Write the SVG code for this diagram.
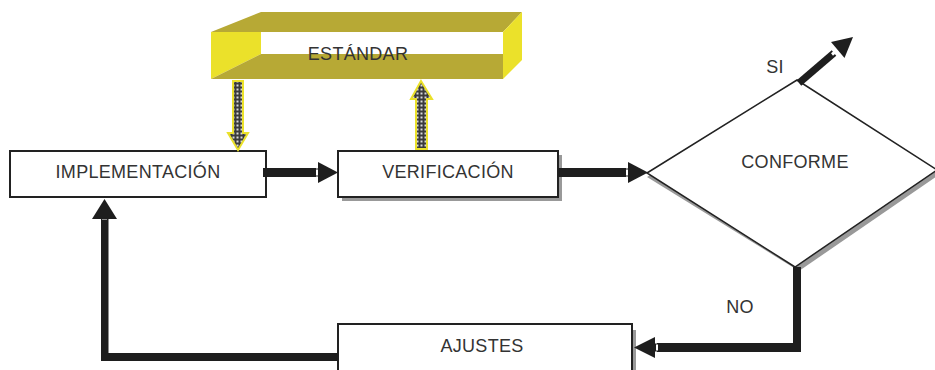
<svg xmlns="http://www.w3.org/2000/svg" width="935" height="370" viewBox="0 0 935 370">
<defs>
<style>
.t{font-family:"Liberation Sans",Arial,sans-serif;font-size:18px;fill:#333;text-anchor:middle;letter-spacing:0.3px}
.box{fill:#fff;stroke:#222;stroke-width:2}
.sh{fill:#999}
.bar{fill:#1e1e1e}
.notch{fill:#fff;stroke:#1e1e1e;stroke-width:1}
.pat{fill:url(#mesh);stroke:#ebe12a;stroke-width:2}
</style>
<pattern id="mesh" width="4" height="4" patternUnits="userSpaceOnUse">
<rect width="4" height="4" fill="#3a3a3a"/>
<rect x="0.5" y="0.5" width="2" height="2" fill="#d8d8d8"/>
</pattern>
</defs>
<rect width="935" height="370" fill="#fff"/>

<g id="estandar">
<polygon points="211,32 261,12 522,12 503,32" fill="#b7a935"/>
<polygon points="211,32 261,32 261,54 211,79" fill="#ebe12a"/>
<polygon points="261,54 503,54 503,79 211,79" fill="#b7a935"/>
<polygon points="503,32 522,12 522,60 503,79" fill="#ebe12a"/>
<text class="t" x="358" y="60">ESTÁNDAR</text>
</g>

<g id="implementacion">
<rect class="sh" x="11" y="152" width="256" height="46"/>
<rect class="box" x="10" y="151" width="256" height="46"/>
<text class="t" x="138" y="178">IMPLEMENTACIÓN</text>
</g>

<g id="verificacion">
<rect class="sh" x="342" y="155" width="220" height="46"/>
<rect class="box" x="338" y="151" width="220" height="46"/>
<text class="t" x="448" y="178">VERIFICACIÓN</text>
</g>

<g id="conforme">
<polygon class="sh" points="797,84 940,174 799,271 647,177"/>
<polygon points="647,173 797,80 937,170 795,267" fill="#fff" stroke="#222" stroke-width="1.5"/>
<text class="t" x="795" y="168">CONFORME</text>
</g>

<g id="ajustes">
<rect class="sh" x="342" y="330" width="294" height="50"/>
<rect class="box" x="338" y="324" width="294" height="56"/>
<text class="t" x="482" y="352">AJUSTES</text>
</g>

<g id="connectors">
<!-- estandar -> implementacion -->
<polygon class="pat" points="233,81 243,81 243,133 248,133 238,150 228,133 233,133"/>
<!-- verificacion -> estandar -->
<polygon class="pat" points="421,81 432,99 427,99 427,149 416,149 416,99 411,99"/>
<!-- implementacion -> verificacion -->
<rect class="bar" x="263" y="168" width="53" height="9"/>
<rect class="notch" x="315.5" y="169" width="3" height="7"/>
<polygon class="bar" points="318,162 338,172.5 318,183"/>
<!-- verificacion -> conforme -->
<rect class="bar" x="558" y="168" width="68" height="9"/>
<rect class="notch" x="625.5" y="169" width="3" height="7"/>
<polygon class="bar" points="628,162 648,172.5 628,183"/>
<!-- SI -->
<line x1="799" y1="83" x2="834" y2="53" stroke="#1e1e1e" stroke-width="7"/>
<line x1="832" y1="54.5" x2="836" y2="51" stroke="#fff" stroke-width="3"/>
<polygon class="bar" points="853,37 844.5,58 831,42"/>
<text class="t" x="775" y="73">SI</text>
<!-- NO -->
<rect class="bar" x="793" y="267" width="8" height="85"/>
<rect class="bar" x="657" y="343" width="144" height="9"/>
<rect class="notch" x="655.5" y="344" width="3" height="7"/>
<polygon class="bar" points="655,337 634,347.5 655,358"/>
<text class="t" x="740" y="313">NO</text>
<!-- ajustes -> implementacion -->
<rect class="bar" x="101" y="353" width="237" height="8"/>
<rect class="bar" x="101" y="218" width="7.5" height="143"/>
<rect class="notch" x="101.5" y="217.5" width="6" height="2.5"/>
<polygon class="bar" points="104.5,199 117,219 92,219"/>
</g>
</svg>
